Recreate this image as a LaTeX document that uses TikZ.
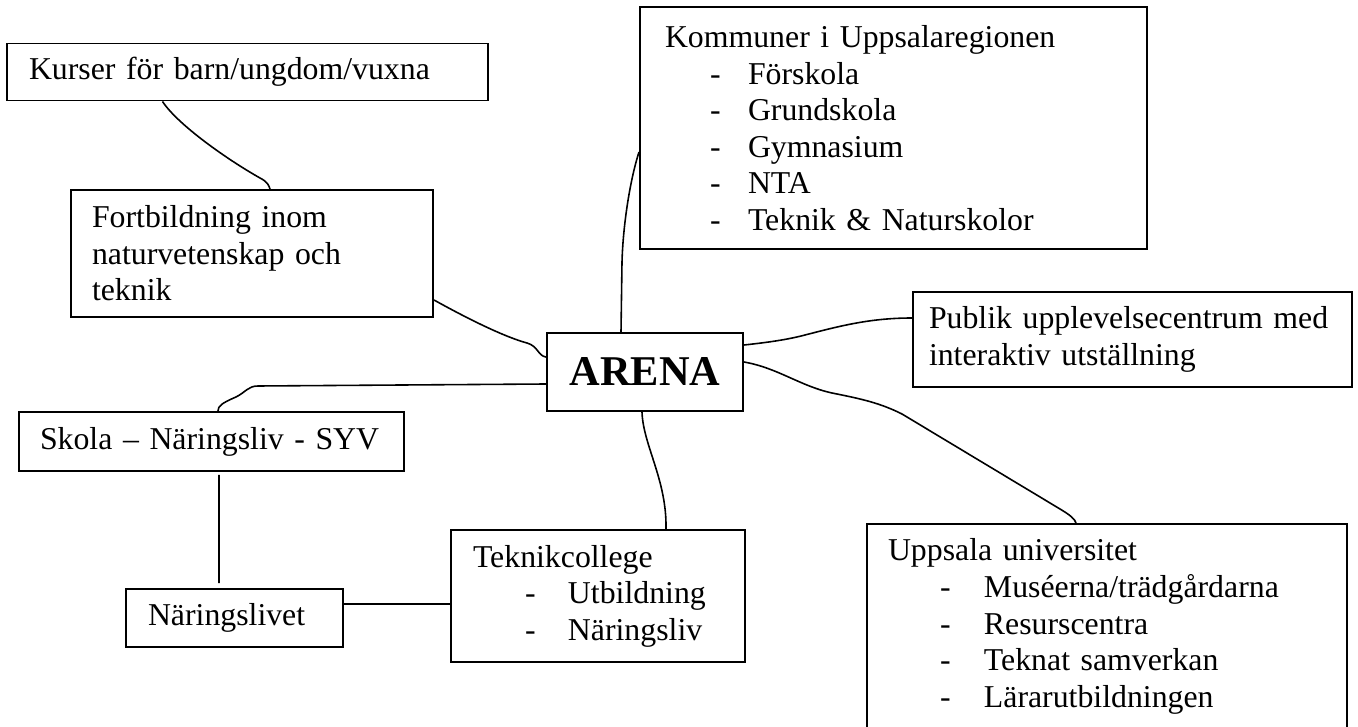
\documentclass[tikz,border=0pt]{standalone}
\usepackage{fontspec}
\setmainfont{Liberation Serif}
\usetikzlibrary{calc}

\newlength\upx
\setlength\upx{0.3774pt}
\newcommand{\dashitem}[3]{\makebox[#2\upx][l]{\hspace*{#1\upx}-}#3}

\begin{document}
\begin{tikzpicture}[x=0.3774pt, y=-0.3774pt,
    box/.style n args={3}{draw, line width=0.75pt, inner sep=0pt, align=left,
      font=\fontsize{12}{13.8}\selectfont,
      minimum width=#1\upx, minimum height=#2\upx, text width=#3\upx},
    hub/.style={draw, line width=0.75pt, inner sep=0pt,
      font=\fontsize{16}{19}\selectfont\bfseries},
    link/.style={line width=0.6pt}]
  \useasboundingbox (0,0) rectangle (1358,727);

  % 1. boxes
  \node[box={481}{57}{437}] (kurser) at (247.5,72) {Kurser för barn/ungdom/vuxna};
  \node[box={507}{242}{457}] (kommuner) at (893.5,128) {Kommuner i Uppsalaregionen\\
    \dashitem{45}{83}{Förskola}\\
    \dashitem{45}{83}{Grundskola}\\
    \dashitem{45}{83}{Gymnasium}\\
    \dashitem{45}{83}{NTA}\\
    \dashitem{45}{83}{Teknik \& Naturskolor}};
  \node[box={362}{127}{320}] (fortb) at (252,253.5) {Fortbildning inom\\naturvetenskap och\\teknik};
  \node[box={439}{95}{407}] (publik) at (1132.5,339.5) {Publik upplevelsecentrum med\\interaktiv utställning};
  \node[hub, minimum width=196\upx, minimum height=78\upx] (arena) at (645,372) {ARENA};
  \node[box={385}{59}{343}] (skola) at (211.5,441.5) {Skola – Näringsliv - SYV};
  \node[box={217}{58}{173}] (naering) at (234.5,618) {Näringslivet};
  \node[box={294}{132}{250}] (teknik) at (598,596) {Teknikcollege\\
    \dashitem{52}{95}{Utbildning}\\
    \dashitem{52}{95}{Näringsliv}};
  \node[box={480}{205}{438}] (uppsala) at (1107,626.5) {Uppsala universitet\\
    \dashitem{52}{96}{Muséerna/trädgårdarna}\\
    \dashitem{52}{96}{Resurscentra}\\
    \dashitem{52}{96}{Teknat samverkan}\\
    \dashitem{52}{96}{Lärarutbildningen}};

  % 2. hand drawn links
  \draw[link] ($(kurser.south)+(-85,0)$) .. controls (178,125) and (228,160) .. (260,178)
    .. controls (268,182) and (269,186) .. ($(fortb.north)+(18,0)$);
  \draw[link] ($(fortb.south east)+(0,-18)$) .. controls (470,320) and (505,337) .. (527,343)
    .. controls (538,346) and (538,356) .. ($(arena.west)+(0,-15)$);
  \draw[link] ($(kommuner.west)+(0,24)$) .. controls (630,180) and (623,225) .. (622,262)
    -- ($(arena.north)+(-24,0)$);
  \draw[link] ($(arena.west)+(0,12)$) -- (258,386) .. controls (248,386) and (246,392) .. (236,397)
    .. controls (222,403) and (218,406) .. ($(skola.north)+(6.5,0)$);
  \draw[link] ($(arena.east)+(0,-27)$) .. controls (772,342) and (790,339) .. (805,335)
    .. controls (840,326) and (870,318) .. ($(publik.west)+(0,-21.5)$);
  \draw[link] ($(arena.east)+(0,-10)$) .. controls (778,368) and (800,386) .. (832,393)
    .. controls (862,399) and (880,403) .. (902,414) -- (1060,509)
    .. controls (1070,515) and (1075,519) .. ($(uppsala.north)+(-31,0)$);
  \draw[link] ($(arena.south)+(-3,0)$) .. controls (643,445) and (667,480) .. ($(teknik.north)+(68,0)$);
  \draw[link] ($(skola.south)+(7.5,3)$) -- ($(naering.north)+(-15.5,-5)$);
  \draw[link] ($(naering.east)+(0,-14)$) -- ($(teknik.west)+(0,8)$);
\end{tikzpicture}
\end{document}
